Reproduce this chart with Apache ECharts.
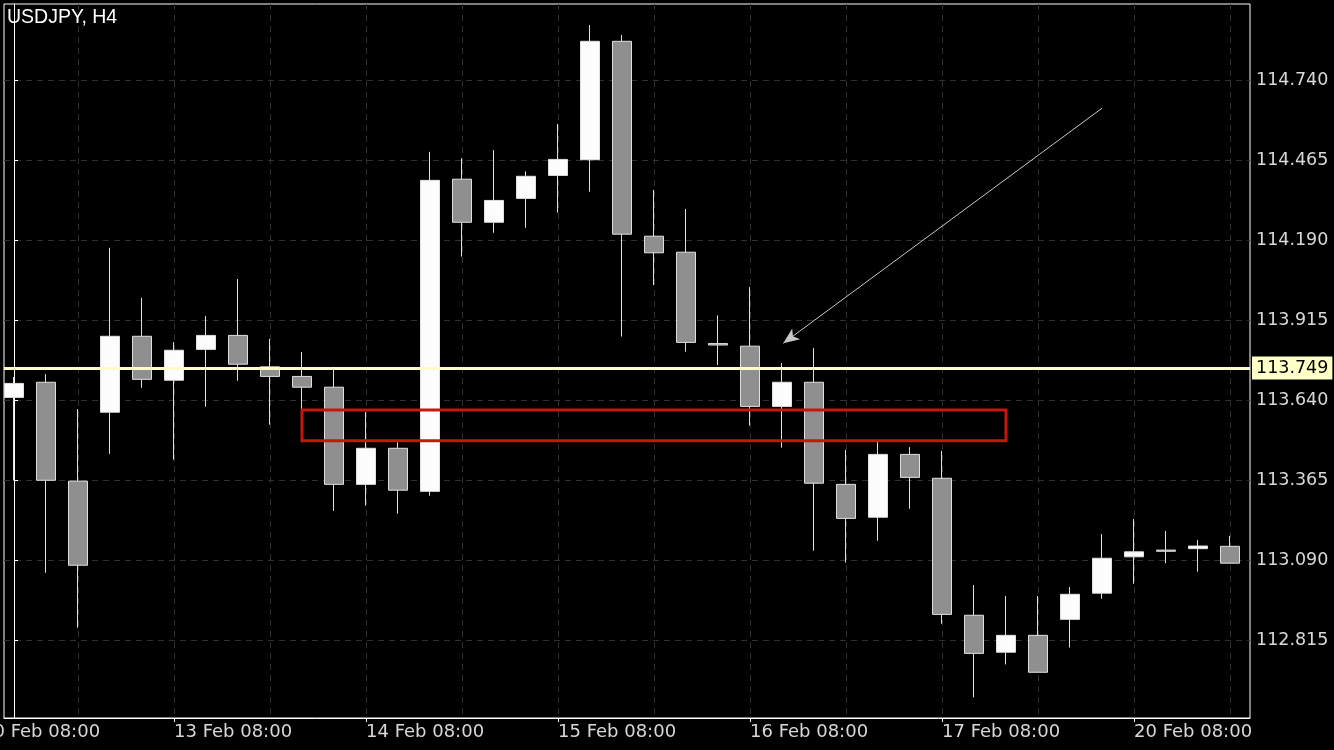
<!DOCTYPE html>
<html>
<head>
<meta charset="utf-8">
<title>USDJPY, H4</title>
<script src="https://cdn.jsdelivr.net/npm/echarts@6/dist/echarts.min.js"></script>
<style>
  html, body { margin: 0; padding: 0; background: #000; }
  #chart { width: 1334px; height: 750px; }
</style>
</head>
<body>
<div id="chart"></div>
<script>
// H4 candles, index 0 = 10 Feb 12:00
const opens = [
  113.649, 113.701, 113.361, 113.598, 113.859, 113.708, 113.814, 113.862, 113.754, 113.721,
  113.684, 113.350, 113.474, 113.326, 114.399, 114.251, 114.333, 114.412, 114.466, 114.873,
  114.203, 114.148, 113.834, 113.825, 113.618, 113.701, 113.350, 113.237, 113.453, 113.371,
  112.900, 112.773, 112.831, 112.886, 112.976, 113.101, 113.124, 113.129, 113.137
];
const closes = [
  113.697, 113.364, 113.072, 113.859, 113.711, 113.811, 113.862, 113.763, 113.721, 113.684,
  113.350, 113.474, 113.330, 114.395, 114.251, 114.326, 114.409, 114.467, 114.873, 114.210,
  114.146, 113.838, 113.829, 113.618, 113.701, 113.354, 113.233, 113.453, 113.374, 112.903,
  112.769, 112.831, 112.704, 112.972, 113.096, 113.118, 113.120, 113.138, 113.079
];
const lows = [
  113.363, 113.046, 112.857, 113.455, 113.682, 113.435, 113.617, 113.706, 113.555, 113.608,
  113.259, 113.277, 113.249, 113.311, 114.133, 114.215, 114.232, 114.284, 114.356, 113.858,
  114.035, 113.806, 113.760, 113.552, 113.476, 113.122, 113.081, 113.156, 113.266, 112.871,
  112.618, 112.731, 112.703, 112.789, 112.957, 113.008, 113.079, 113.050, 113.078
];
const highs = [
  113.719, 113.729, 113.609, 114.163, 113.991, 113.839, 113.929, 114.056, 113.850, 113.805,
  113.754, 113.598, 113.495, 114.493, 114.471, 114.499, 114.426, 114.589, 114.929, 114.895,
  114.362, 114.297, 113.931, 114.028, 113.767, 113.819, 113.468, 113.496, 113.478, 113.465,
  113.004, 112.966, 112.966, 112.997, 113.179, 113.231, 113.190, 113.159, 113.173
];

// time axis labels (candle index -> text)
const tickIdx = [-1, 5, 11, 17, 23, 29, 35];
const tickText = ["10 Feb 08:00", "13 Feb 08:00", "14 Feb 08:00", "15 Feb 08:00",
  "16 Feb 08:00", "17 Feb 08:00", "20 Feb 08:00"];
const gridIdx = [2, 5, 8, 11, 14, 17, 20, 23, 26, 29, 32, 35, 38];
const priceTicks = [112.815, 113.090, 113.365, 113.640, 113.915, 114.190, 114.465, 114.740];

// drawn objects
const levelPrice = 113.749;
const zone = [[9, 113.606], [31, 113.500]];
const arrow = [[34, 114.643], [24.04, 113.835]];

const xMin = -0.3125, xMax = 38.625;
const yMin = 112.546875, yMax = 115.00125;

const labelColor = "#d8d8d8";
const gridColor = "#303030";
const font = "DejaVu Sans";

const chart = echarts.init(document.getElementById("chart"));

const candles = opens.map((o, i) => [i, o, closes[i], lows[i], highs[i]]);

const option = {
  backgroundColor: "#000",
  animation: false,
  title: {
    text: "USDJPY, H4",
    left: 7,
    top: 8,
    padding: 0,
    textStyle: { color: "#fff", fontSize: 19.5, fontWeight: "normal", fontFamily: "Liberation Sans" },
  },
  grid: {
    left: 4, right: 84, top: 4, bottom: 32,
    show: true, borderColor: "#fff", borderWidth: 1,
  },
  xAxis: [
    {
      type: "value",
      min: xMin, max: xMax,
      axisLine: { lineStyle: { color: "#fff", width: 1 } },
      axisTick: { customValues: tickIdx, length: 4, lineStyle: { color: "#fff" } },
      axisLabel: {
        customValues: tickIdx,
        formatter: (v) => tickText[tickIdx.indexOf(Math.round(v))] || "",
        align: "left",
        margin: 5,
        color: labelColor,
        fontSize: 18,
        fontFamily: font,
      },
      splitLine: { show: false },
    },
    {
      // only for the vertical dashed grid (every 3 candles)
      type: "value",
      min: xMin, max: xMax,
      axisLine: { show: false },
      axisLabel: { show: false },
      axisTick: { show: false, customValues: gridIdx },
      splitLine: { show: true, lineStyle: { color: gridColor, type: [6, 5] } },
    },
  ],
  yAxis: {
    type: "value",
    position: "right",
    min: yMin, max: yMax,
    axisLine: { show: true, lineStyle: { color: "#fff", width: 1 } },
    axisTick: { show: true, customValues: priceTicks, length: 4, lineStyle: { color: "#fff" } },
    axisLabel: {
      customValues: priceTicks,
      formatter: (v) => v.toFixed(3),
      margin: 6,
      color: labelColor,
      fontSize: 17.5,
      fontFamily: font,
    },
    splitLine: { show: true, lineStyle: { color: gridColor, type: [6, 5] } },
  },
  series: [
    {
      type: "candlestick",
      xAxisIndex: 0,
      barWidth: 20,
      data: candles,
      itemStyle: {
        color: "#fcfcfc",
        color0: "#8f8f8f",
        borderColor: "#e0e0e0",
        borderColor0: "#e0e0e0",
        borderWidth: 1,
      },
      markArea: {
        silent: true,
        z: 6,
        label: { show: false },
        itemStyle: { color: "rgba(0,0,0,0)", borderColor: "#c4170f", borderWidth: 3 },
        data: [[{ coord: zone[0] }, { coord: zone[1] }]],
      },
      markLine: {
        silent: true,
        symbol: ["none", "none"],
        data: [
          {
            yAxis: levelPrice,
            lineStyle: { color: "#fffacd", width: 3, type: "solid" },
            label: {
              show: true,
              position: "end",
              distance: 2,
              formatter: () => levelPrice.toFixed(3),
              backgroundColor: "#ffffc8",
              color: "#000",
              padding: [3, 4, 2, 4],
              fontSize: 17.5,
              fontFamily: font,
            },
          },
          [
            {
              coord: arrow[0], symbol: "none",
              lineStyle: { color: "#c8c8c8", width: 1, type: "solid" },
              label: { show: false },
            },
            {
              coord: arrow[1], symbol: "arrow", symbolSize: [10, 16],
              lineStyle: { color: "#c8c8c8", width: 1, type: "solid" },
              label: { show: false },
            },
          ],
        ],
      },
    },
  ],
};

chart.setOption(option);

// first time label sits left of the plot, only its tail is visible
const firstX = chart.convertToPixel({ xAxisIndex: 0 }, tickIdx[0]);
const axisY = chart.convertToPixel({ yAxisIndex: 0 }, yMin);
chart.setOption({
  graphic: [
    {
      type: "text",
      x: firstX,
      y: axisY + 5,
      style: {
        text: tickText[0],
        fill: labelColor,
        fontSize: 18,
        fontFamily: font,
        verticalAlign: "top",
      },
    },
  ],
});
</script>
</body>
</html>
